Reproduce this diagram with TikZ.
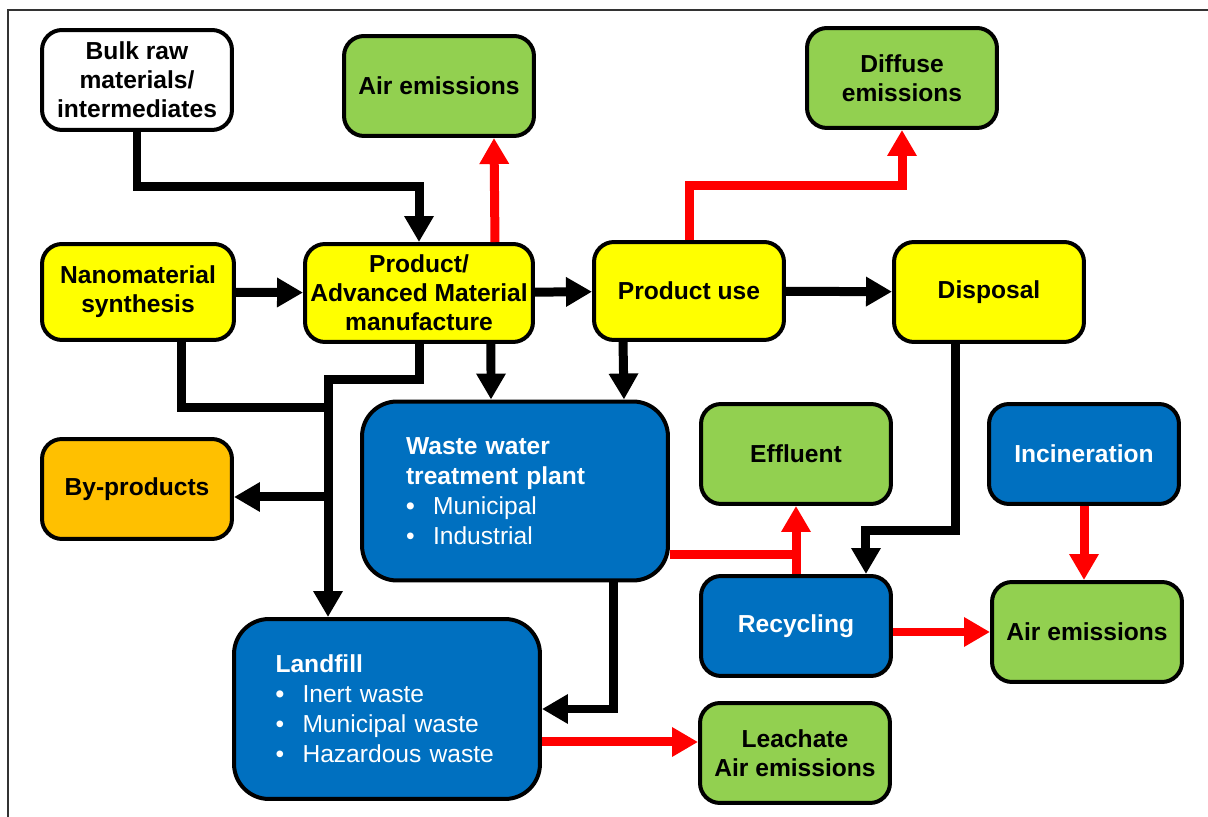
\documentclass[tikz,border=0pt]{standalone}
\usepackage{fontspec}
\setmainfont{Liberation Sans}
\usepackage{xcolor}
\usepackage{tikz}
\usetikzlibrary{arrows.meta}

\definecolor{emisgreen}{HTML}{92D050}
\definecolor{procyellow}{HTML}{FFFF00}
\definecolor{sideorange}{HTML}{FFC000}
\definecolor{treatblue}{HTML}{0070C0}
\definecolor{hotred}{HTML}{FF0000}

\newcommand{\wbullet}{\makebox[0.54cm][l]{\textbullet}\mdseries}

\tikzset{
	box/.style={draw, line width=0.08cm, rounded corners=0.4cm, minimum width=3.8cm, minimum height=2cm, align=center, inner sep=2pt, font=\fontsize{14}{16.5}\selectfont\bfseries},
	raw/.style={box, fill=white},
	emis/.style={box, fill=emisgreen},
	proc/.style={box, fill=procyellow},
	side/.style={box, fill=sideorange},
	treat/.style={box, fill=treatblue, text=white},
	site/.style={treat, rounded corners=0.7cm, minimum width=6.12cm, minimum height=3.58cm, text width=4.36cm, align=left, font=\fontsize{14}{17}\selectfont\bfseries},
	flow/.style={line width=0.18cm, -{Triangle[length=0.52cm, width=0.56cm]}},
	pipe/.style={line width=0.18cm},
	hot/.style={flow, draw=hotred, color=hotred},
	hotline/.style={pipe, draw=hotred}
}

\begin{document}
\begin{tikzpicture}[x=0.02cm, y=-0.02cm]
		\useasboundingbox (0,0) rectangle (1208,817);
		\draw[line width=0.03cm, black!80] (8,817) -- (8,10) -- (1208,10);
		%
		\node[raw] (bulk) at (137,80) {Bulk raw\\materials/\\intermediates};
		\node[emis] (airtop) at (439,86) {Air emissions};
		\node[emis] (diffuse) at (902,78) {Diffuse\\emissions};
		\node[proc, minimum width=3.84cm, minimum height=1.92cm] (nano) at (138,292) {Nanomaterial\\synthesis};
		\node[proc, minimum width=4.56cm, minimum height=1.96cm] (manuf) at (419,293) {Product/\\Advanced Material\\manufacture};
		\node[proc, minimum height=1.96cm] (use) at (689,291) {Product use};
		\node[proc] (disposal) at (989,292) {Disposal};
		\node[side] (byprod) at (137,489) {By-products};
		\node[site] (wwtp) at (515,491) {Waste water\\treatment plant\\\wbullet Municipal\\\wbullet Industrial};
		\node[emis] (effluent) at (796,454) {Effluent};
		\node[treat] (incin) at (1084,454) {Incineration};
		\node[treat] (recyc) at (796,626) {Recycling};
		\node[emis] (airright) at (1087,632) {Air emissions};
		\node[site, minimum height=3.6cm, text width=4.46cm] (landfill) at (387,709) {Landfill\\\wbullet Inert waste\\\wbullet Municipal waste\\\wbullet Hazardous waste};
		\node[emis] (leach) at (795,753) {Leachate\\Air emissions};
		%
		\coordinate (join) at (328,408);
		\coordinate (fork) at (328,497);
		\coordinate (wwout) at ([yshift=-1.28cm]wwtp.east);
		\coordinate (lfout) at ([yshift=-0.66cm]landfill.east);
		%
		\path[flow]
		(nano) edge (manuf)
		(manuf) edge (use)
		(use) edge (disposal);
		\draw[flow] (bulk.south) -- ++(0,55) -| (manuf.north);
		\draw[flow] (manuf.south) -- ++(0,36) -| ([xshift=-1.18cm]landfill.north);
		\draw[pipe] ([xshift=0.88cm]nano.south) |- (join);
		\draw[flow] (fork) -- (fork -| byprod.east);
		\draw[flow] ([xshift=1.44cm]manuf.south) -- ([xshift=-0.48cm]wwtp.north);
		\draw[flow] ([xshift=-1.32cm]use.south) -- ([xshift=2.18cm]wwtp.north);
		\draw[flow] ([xshift=1.98cm]wwtp.south) |- (landfill.east);
		\draw[flow] ([xshift=-0.68cm]disposal.south) -- ++(0,187) -| ([xshift=1.4cm]recyc.north);
		%
		\draw[hot] ([xshift=1.52cm]manuf.north) -- ([xshift=1.1cm]airtop.south);
		\draw[hot] (use.north) -- ++(0,-55) -| (diffuse.south);
		\draw[hotline] (wwout) -- (wwout -| recyc.north);
		\draw[hot] (recyc.north) -- (effluent.south);
		\draw[hot] (incin.south) -- (incin.south |- airright.north);
		\draw[hot] (recyc.east |- airright.west) -- (airright.west);
		\draw[hot] (lfout) -- (lfout -| leach.west);
\end{tikzpicture}
\end{document}
